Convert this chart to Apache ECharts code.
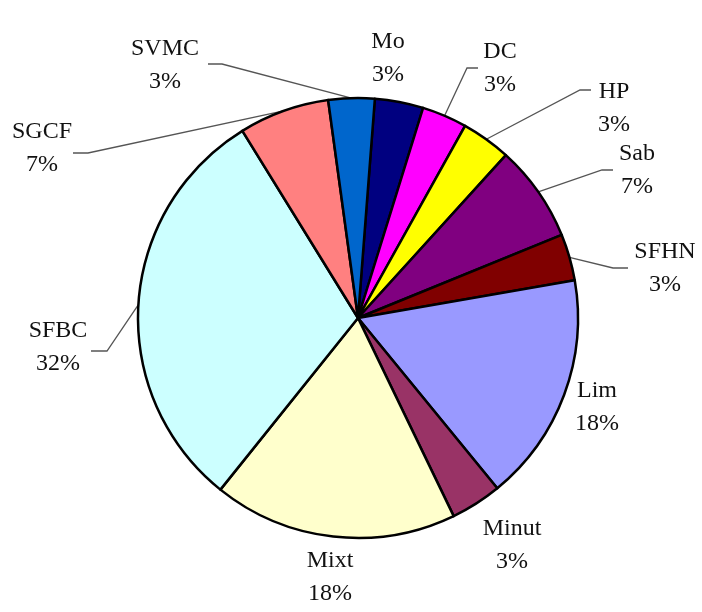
<!DOCTYPE html>
<html>
<head>
<meta charset="utf-8">
<script src="https://cdn.jsdelivr.net/npm/echarts@6/dist/echarts.min.js"></script>
<style>
html,body{margin:0;padding:0;background:#fff;}
#chart{width:702px;height:612px;}
</style>
</head>
<body>
<div id="chart"></div>
<script>
// Categories (clockwise from the top)
const categories = ['Mo', 'DC', 'HP', 'Sab', 'SFHN', 'Lim', 'Minut', 'Mixt', 'SFBC', 'SGCF', 'SVMC'];
// Slice shares (percent)
const sliceShares = [3.56, 3.31, 3.64, 7.11, 3.42, 16.83, 3.75, 17.92, 30.44, 6.64, 3.39];
// Percent labels as printed on the chart
const percentLabels = ['3%', '3%', '3%', '7%', '3%', '18%', '3%', '18%', '32%', '7%', '3%'];

const colors = ['#000080', '#FF00FF', '#FFFF00', '#800080', '#800000', '#9999FF',
                '#993366', '#FFFFCC', '#CCFFFF', '#FF8080', '#0066CC'];

// label placement (text block centre) and leader line bend/end points
const labelPlacement = {
  'Mo':    { x: 388, y: 58 },
  'DC':    { x: 500, y: 68,  line: [[467, 68], [478, 68]] },
  'HP':    { x: 614, y: 108, line: [[580, 90], [591, 90]] },
  'Sab':   { x: 637, y: 170, line: [[602, 170], [613, 170]] },
  'SFHN':  { x: 665, y: 268, line: [[613, 268], [628, 268]] },
  'Lim':   { x: 597, y: 407 },
  'Minut': { x: 512, y: 545 },
  'Mixt':  { x: 330, y: 577 },
  'SFBC':  { x: 58,  y: 347, line: [[107, 351], [91, 351]] },
  'SGCF':  { x: 42,  y: 148, line: [[88, 153], [73, 153]] },
  'SVMC':  { x: 165, y: 65,  line: [[222, 64], [208, 64]] }
};

const chart = echarts.init(document.getElementById('chart'));
chart.setOption({
  animation: false,
  backgroundColor: '#fff',
  series: [{
    type: 'pie',
    center: [358, 318],
    radius: 220,
    startAngle: 85.6,
    clockwise: true,
    avoidLabelOverlap: false,
    itemStyle: { borderColor: '#000', borderWidth: 2.5 },
    label: {
      show: true,
      position: 'outside',
      fontFamily: "'Liberation Serif', 'Times New Roman', serif",
      fontSize: 24,
      lineHeight: 33,
      color: '#111',
      formatter: function (p) { return p.name + '\n' + percentLabels[p.dataIndex]; }
    },
    labelLine: { show: true, length: 10, length2: 10, smooth: false,
      lineStyle: { color: '#555', width: 1.3 } },
    emphasis: { disabled: true },
    labelLayout: function (params) {
      const name = categories[params.dataIndex];
      const L = labelPlacement[name];
      const res = { x: L.x, y: L.y, align: 'center', verticalAlign: 'middle' };
      if (L.line && params.labelLinePoints) {
        res.labelLinePoints = [params.labelLinePoints[0], L.line[0], L.line[1]];
      }
      return res;
    },
    data: categories.map(function (c, i) {
      return {
        name: c,
        value: sliceShares[i],
        itemStyle: { color: colors[i] },
        labelLine: { show: !!labelPlacement[c].line }
      };
    })
  }]
});
</script>
</body>
</html>
